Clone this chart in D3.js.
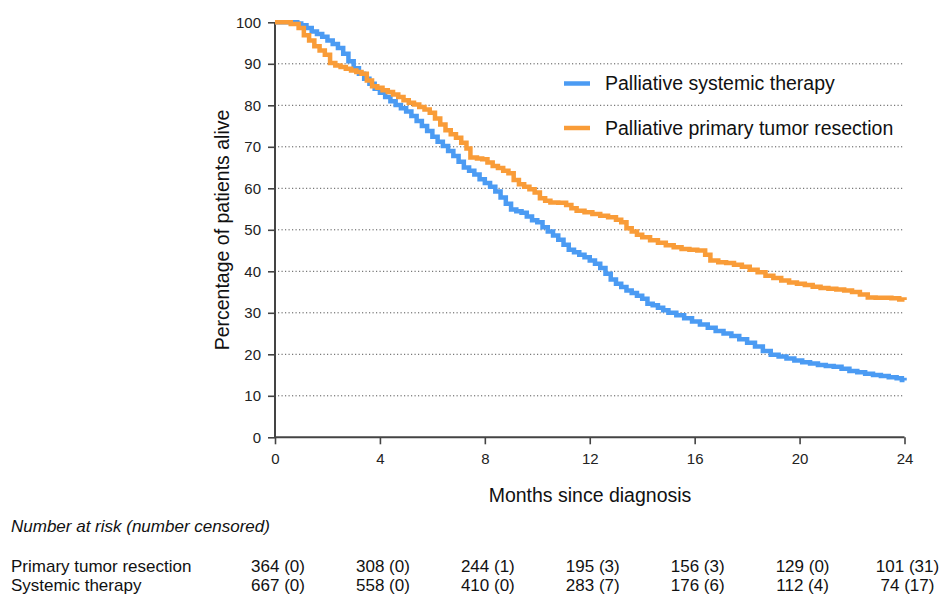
<!DOCTYPE html>
<html>
<head>
<meta charset="utf-8">
<script src="https://cdn.jsdelivr.net/npm/d3@7"></script>
<style>
  body { margin: 0; background: #fff; }
  svg { display: block; font-family: "Liberation Sans", Arial, sans-serif; }
</style>
</head>
<body>
<div id="chart"></div>
<script>
// survival curves (months, % alive)
const sysMonths = [0, 0.85, 1.0, 1.2, 1.4, 1.6, 1.8, 2.0, 2.2, 2.4, 2.6, 2.8, 3.0, 3.2, 3.4, 3.6, 3.8, 4.0, 4.2, 4.4, 4.6, 4.8, 5.0, 5.2, 5.4, 5.6, 5.8, 6.0, 6.2, 6.4, 6.6, 6.8, 7.0, 7.2, 7.4, 7.6, 7.8, 8.0, 8.2, 8.4, 8.6, 8.8, 9.0, 9.2, 9.4, 9.6, 9.8, 10.0, 10.2, 10.4, 10.6, 10.8, 11.0, 11.2, 11.4, 11.6, 11.8, 12.0, 12.2, 12.4, 12.6, 12.8, 13.0, 13.2, 13.4, 13.6, 13.8, 14.0, 14.2, 14.4, 14.6, 14.8, 15.0, 15.3, 15.6, 15.9, 16.2, 16.5, 16.8, 17.1, 17.4, 17.7, 18.0, 18.3, 18.6, 18.9, 19.2, 19.5, 19.8, 20.1, 20.4, 20.7, 21.0, 21.3, 21.6, 21.9, 22.2, 22.5, 22.8, 23.1, 23.4, 23.7, 23.9, 24.0];
const sysPct = [100, 99.7, 99.3, 98.6, 97.8, 97.2, 96.5, 95.6, 94.8, 93.8, 92.4, 90.6, 88.9, 87.6, 86.4, 85.2, 84.0, 83.0, 82.0, 81.0, 80.1, 79.3, 78.5, 77.4, 76.2, 75.0, 73.8, 72.4, 71.2, 70.2, 69.0, 67.8, 66.4, 65.0, 64.2, 63.3, 62.2, 61.3, 60.4, 59.2, 57.8, 56.3, 54.9, 54.5, 54.1, 53.2, 52.3, 51.8, 50.6, 49.6, 48.6, 47.6, 46.4, 45.2, 44.6, 44.0, 43.4, 42.6, 41.8, 40.8, 39.4, 38.0, 37.0, 36.2, 35.4, 34.8, 34.1, 33.4, 32.2, 31.8, 31.2, 30.6, 30.0, 29.4, 28.7, 27.9, 27.2, 26.4, 25.6, 25.0, 24.4, 23.6, 22.8, 21.9, 20.8, 19.9, 19.5, 19.0, 18.5, 18.1, 17.8, 17.4, 17.2, 17.0, 16.5, 16.0, 15.7, 15.3, 15.0, 14.8, 14.5, 14.2, 13.8, 13.7];

const resMonths = [0, 0.6, 0.9, 1.1, 1.3, 1.5, 1.7, 1.9, 2.1, 2.3, 2.5, 2.7, 2.9, 3.1, 3.3, 3.5, 3.7, 3.9, 4.1, 4.3, 4.5, 4.7, 4.9, 5.1, 5.3, 5.5, 5.7, 5.9, 6.1, 6.3, 6.5, 6.7, 6.9, 7.1, 7.3, 7.45, 7.7, 7.9, 8.1, 8.3, 8.5, 8.7, 8.9, 9.1, 9.3, 9.5, 9.7, 9.9, 10.1, 10.3, 10.5, 10.8, 11.1, 11.3, 11.5, 11.8, 12.1, 12.4, 12.7, 13.0, 13.2, 13.4, 13.6, 13.8, 14.0, 14.3, 14.6, 14.9, 15.2, 15.5, 15.8, 16.1, 16.4, 16.6, 16.9, 17.2, 17.5, 17.8, 18.1, 18.4, 18.7, 19.0, 19.3, 19.6, 19.9, 20.2, 20.5, 20.8, 21.1, 21.4, 21.7, 22.0, 22.3, 22.6, 22.9, 23.2, 23.5, 23.8, 24.0];
const resPct = [100, 99.6, 98.6, 96.9, 95.6, 94.2, 93.2, 92.2, 90.2, 89.6, 89.2, 88.8, 88.4, 88.0, 87.6, 86.0, 84.6, 84.2, 83.6, 83.2, 82.6, 82.0, 81.2, 80.6, 80.2, 79.6, 79.0, 78.2, 76.8, 75.4, 74.0, 73.0, 72.2, 71.0, 69.6, 67.4, 67.2, 67.0, 66.2, 65.4, 64.9, 64.2, 63.6, 62.0, 61.0, 60.4, 59.8, 59.0, 57.6, 57.0, 56.6, 56.5, 56.0, 55.2, 54.6, 54.2, 53.8, 53.4, 53.0, 52.4, 51.8, 50.4, 49.6, 48.8, 48.2, 47.5, 46.9, 46.3, 45.8, 45.4, 45.2, 45.0, 44.0, 42.6, 42.2, 42.0, 41.6, 41.1, 40.4, 39.8, 38.9, 38.4, 37.8, 37.3, 37.0, 36.7, 36.3, 36.0, 35.8, 35.6, 35.4, 35.0, 34.4, 33.7, 33.6, 33.6, 33.5, 33.2, 33.1];

const xTicks = [0, 4, 8, 12, 16, 20, 24];
const yTicks = [0, 10, 20, 30, 40, 50, 60, 70, 80, 90, 100];
const gridTicks = [10, 20, 30, 40, 50, 60, 70, 80, 90];

const seriesNames = ["Palliative systemic therapy", "Palliative primary tumor resection"];
const riskLabels = ["Primary tumor resection", "Systemic therapy"];
const riskResection = ["364 (0)", "308 (0)", "244 (1)", "195 (3)", "156 (3)", "129 (0)", "101 (31)"];
const riskSystemic = ["667 (0)", "558 (0)", "410 (0)", "283 (7)", "176 (6)", "112 (4)", "74 (17)"];

const width = 942, height = 596;
const blue = "#4b9bf3", orange = "#f99c38";

const svg = d3.select("#chart").append("svg")
    .attr("width", width)
    .attr("height", height);

const x = d3.scaleLinear().domain([0, 24]).range([275, 904.5]);
const y = d3.scaleLinear().domain([0, 100]).range([437.3, 22.3]);

// dotted gridlines
svg.append("g")
    .selectAll("line")
    .data(gridTicks)
    .join("line")
    .attr("x1", x(0) + 3)
    .attr("x2", x(24) - 2)
    .attr("y1", d => y(d))
    .attr("y2", d => y(d))
    .attr("stroke", "#555")
    .attr("stroke-width", 1)
    .attr("stroke-dasharray", "1.2,2.3");

// axes
const yAxis = svg.append("g")
    .attr("transform", `translate(${x(0)},0)`)
    .call(d3.axisLeft(y).tickValues(yTicks).tickSize(7).tickPadding(7));
const xAxis = svg.append("g")
    .attr("transform", `translate(0,${y(0)})`)
    .call(d3.axisBottom(x).tickValues(xTicks).tickSize(7).tickPadding(9));

[yAxis, xAxis].forEach(ax => {
    ax.select(".domain").attr("stroke", "#444").attr("stroke-width", 2);
    ax.selectAll(".tick line").attr("stroke", "#444").attr("stroke-width", 1.6);
    ax.selectAll(".tick text")
        .attr("fill", "#222")
        .style("font-size", "15px")
        .style("font-family", "'Liberation Sans', Arial, sans-serif");
});
// no outer tick stubs on the axis lines
yAxis.select(".domain").attr("d", `M0,${y(100)}V${y(0)}`);
xAxis.select(".domain").attr("d", `M${x(0)},0H${x(24)}`);

// survival lines
const line = d3.line()
    .x(d => x(d[0]))
    .y(d => y(d[1]))
    .curve(d3.curveStepAfter);

const sysData = sysMonths.map((m, i) => [m, sysPct[i]]);
const resData = resMonths.map((m, i) => [m, resPct[i]]);

svg.append("path")
    .datum(sysData)
    .attr("fill", "none")
    .attr("stroke", blue)
    .attr("stroke-width", 4.5)
    .attr("d", line);

svg.append("path")
    .datum(resData)
    .attr("fill", "none")
    .attr("stroke", orange)
    .attr("stroke-width", 4.5)
    .attr("d", line);

// legend
const legend = svg.append("g");
[blue, orange].forEach((c, i) => {
    const ly = 83.5 + i * 44.5;
    legend.append("line")
        .attr("x1", 564).attr("x2", 590)
        .attr("y1", ly).attr("y2", ly)
        .attr("stroke", c)
        .attr("stroke-width", 4.5);
    legend.append("text")
        .attr("x", 605)
        .attr("y", ly + 6.8)
        .attr("fill", "#111")
        .style("font-size", "19.5px")
        .text(seriesNames[i]);
});

// axis titles
svg.append("text")
    .attr("x", 590)
    .attr("y", 502)
    .attr("text-anchor", "middle")
    .attr("fill", "#111")
    .style("font-size", "19.5px")
    .text("Months since diagnosis");

svg.append("text")
    .attr("transform", "translate(229,230) rotate(-90)")
    .attr("text-anchor", "middle")
    .attr("fill", "#111")
    .style("font-size", "19.5px")
    .text("Percentage of patients alive");

// number at risk table
svg.append("text")
    .attr("x", 11)
    .attr("y", 532)
    .attr("fill", "#111")
    .style("font-size", "17px")
    .style("font-style", "italic")
    .text("Number at risk (number censored)");

const rows = [riskResection, riskSystemic];
rows.forEach((vals, r) => {
    const ry = 572 + r * 18.5;
    svg.append("text")
        .attr("x", 11)
        .attr("y", ry)
        .attr("fill", "#111")
        .style("font-size", "17px")
        .text(riskLabels[r]);
    svg.append("g")
        .selectAll("text")
        .data(vals)
        .join("text")
        .attr("x", (d, i) => x(xTicks[i]) + 3)
        .attr("y", ry)
        .attr("text-anchor", "middle")
        .attr("fill", "#111")
        .style("font-size", "17px")
        .text(d => d);
});
</script>
</body>
</html>
